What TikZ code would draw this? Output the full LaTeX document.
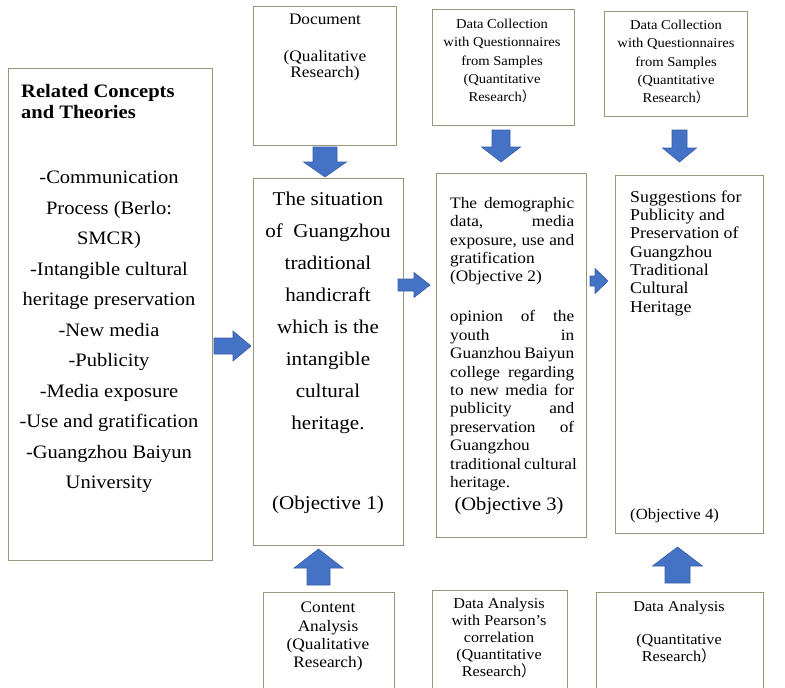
\documentclass[tikz,border=0pt]{standalone}
\usepackage{fontspec}
\setmainfont[FakeStretch=1.08]{Liberation Serif}
\newfontfamily\cjk{Noto Sans CJK SC}
\definecolor{boxline}{RGB}{150,150,120}
\definecolor{arrowfill}{RGB}{68,114,196}
\definecolor{arrowline}{RGB}{55,95,170}
\newcommand{\rpar}{{\cjk ）}}
\newcommand{\jl}[1]{\makebox[124pt][s]{#1}}
% x, y (pixels, downward), angle, length, head length, head half width, shaft half width
\newcommand{\blockarrow}[7]{%
  \filldraw[arrowstyle, shift={(#1,-#2)}, rotate=#3]
    (0,-#7) -- ({#4-#5},-#7) -- ({#4-#5},-#6) -- (#4,0) -- ({#4-#5},#6) -- ({#4-#5},#7) -- (0,#7) -- cycle;}
\begin{document}
\begin{tikzpicture}[x=1pt,y=1pt,
  box/.style={draw=boxline, line width=1.1pt, fill=white, inner sep=0pt, anchor=north west},
  txt/.style={inner sep=0pt, anchor=north, align=center, text=black},
  arrowstyle/.style={fill=arrowfill, draw=arrowline, line width=0.6pt, line join=miter}]
\clip (0,0) rectangle (785,-688);
\fill[white] (0,0) rectangle (785,-688);

% boxes
\node[box, minimum width=204pt, minimum height=492pt] (concepts) at (8,-68) {};
\node[box, minimum width=143pt, minimum height=139pt] (doc) at (253,-6) {};
\node[box, minimum width=142pt, minimum height=116pt] (dcA) at (432,-9) {};
\node[box, minimum width=143pt, minimum height=105pt] (dcB) at (604,-11) {};
\node[box, minimum width=150pt, minimum height=367pt] (situation) at (253,-178) {};
\node[box, minimum width=150pt, minimum height=364pt] (demo) at (436,-173) {};
\node[box, minimum width=148pt, minimum height=358pt] (sugg) at (615,-175) {};
\node[box, minimum width=131pt, minimum height=110pt] (content) at (263,-592) {};
\node[box, minimum width=135pt, minimum height=112pt] (pearson) at (432,-590) {};
\node[box, minimum width=167pt, minimum height=110pt] (danal) at (596,-592) {};

% texts
\node[txt, anchor=north west, align=left, font=\bfseries\fontsize{19}{21}\selectfont] (ctitle) at (21,-84) {Related Concepts\\and Theories};
\node[txt, font=\fontsize{19}{30.5}\selectfont] (clist) at (109,-171) {-Communication\\Process (Berlo:\\SMCR)\\-Intangible cultural\\heritage preservation\\-New media\\-Publicity\\-Media exposure\\-Use and gratification\\-Guangzhou Baiyun\\University};

\node[txt, font=\fontsize{16}{16}\selectfont] (doctext) at (325,-14) {Document\\[21pt](Qualitative\\Research)};
\node[txt, font=\fontsize{13.5}{18.25}\selectfont] (dcAtext) at (502,-19) {Data Collection\\with Questionnaires\\from Samples\\(Quantitative\\Research\rpar};
\node[txt, font=\fontsize{13.5}{18.25}\selectfont] (dcBtext) at (676,-20) {Data Collection\\with Questionnaires\\from Samples\\(Quantitative\\Research\rpar};

\node[txt, font=\fontsize{19.5}{32}\selectfont] (sittext) at (328,-191.5) {The situation\\of~~Guangzhou\\traditional\\handicraft\\which is the\\intangible\\cultural\\heritage.};
\node[txt, font=\fontsize{19.5}{22}\selectfont] (obj1) at (328,-495.5) {(Objective 1)};

\node[txt, anchor=north west, align=left, font=\fontsize{16}{18.4}\selectfont] (demotext) at (450,-197) {\jl{The demographic}\\\jl{data, media}\\\jl{exposure, use and}\\gratification\\(Objective 2)\\[21.5pt]\jl{opinion of the}\\\jl{youth in}\\\jl{Guanzhou Baiyun}\\\jl{college regarding}\\\jl{to new media for}\\\jl{publicity and}\\\jl{preservation of}\\Guangzhou\\\jl{traditional cultural}\\heritage.};
\node[txt, font=\fontsize{19}{22}\selectfont] (obj3) at (509,-497.5) {(Objective 3)};

\node[txt, anchor=north west, align=left, font=\fontsize{16.5}{18.3}\selectfont] (suggtext) at (630,-190.5) {Suggestions for\\Publicity and\\Preservation of\\Guangzhou\\Traditional\\Cultural\\Heritage};
\node[txt, anchor=north west, align=left, font=\fontsize{15.5}{18}\selectfont] (obj4) at (630,-509) {(Objective 4)};

\node[txt, font=\fontsize{16}{18.3}\selectfont] (contenttext) at (328,-602) {Content\\Analysis\\(Qualitative\\Research)};
\node[txt, font=\fontsize{15}{17}\selectfont] (pearsontext) at (499,-598.3) {Data Analysis\\with Pearson’s\\correlation\\(Quantitative\\Research\rpar};
\node[txt, font=\fontsize{15}{17}\selectfont] (danaltext) at (679,-601.3) {Data Analysis\\[16pt](Quantitative\\Research\rpar};

% block arrows
\blockarrow{325}{147}{-90}{30}{15}{21.5}{12}
\blockarrow{501}{130}{-90}{32}{15}{19.5}{9}
\blockarrow{679.5}{130}{-90}{32}{14}{17}{7.5}
\blockarrow{214}{346}{0}{37}{18}{15}{8}
\blockarrow{398}{285}{0}{32}{16}{12.5}{6}
\blockarrow{590}{281}{0}{18}{13}{12.5}{5}
\blockarrow{318.5}{585}{90}{36}{19}{24.5}{11.5}
\blockarrow{677.5}{583}{90}{36}{19}{25}{12.5}
\end{tikzpicture}
\end{document}
